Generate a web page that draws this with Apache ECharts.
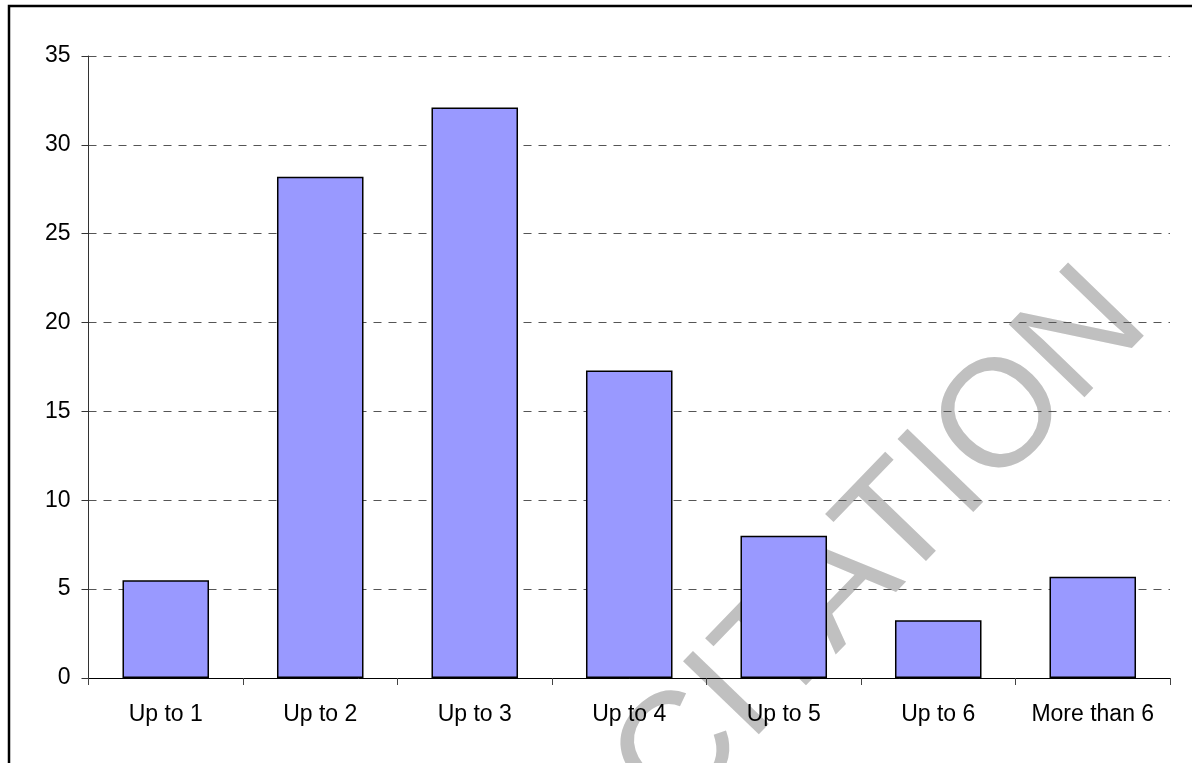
<!DOCTYPE html>
<html>
<head>
<meta charset="utf-8">
<script src="https://cdn.jsdelivr.net/npm/echarts@6/dist/echarts.min.js"></script>
<style>
  html, body { margin: 0; padding: 0; background: #fff; }
  #chart { width: 1192px; height: 763px; }
</style>
</head>
<body>
<div id="chart"></div>
<script>
  // Data
  var categories = ['Up to 1', 'Up to 2', 'Up to 3', 'Up to 4', 'Up to 5', 'Up to 6', 'More than 6'];
  var values = [5.5, 28.2, 32.1, 17.3, 8.0, 3.25, 5.7];
  var yTicks = [0, 5, 10, 15, 20, 25, 30, 35];
  var watermark = 'CITATION';

  var font = 'Liberation Sans, Arial, sans-serif';
  var chart = echarts.init(document.getElementById('chart'));

  var option = {
    animation: false,
    backgroundColor: '#fff',
    grid: {
      left: 88.5,
      right: 22,
      top: 56,
      bottom: 85
    },
    graphic: {
      elements: [{
        // outer frame
        type: 'rect',
        z: -20,
        shape: { x: 9, y: 6, width: 1400, height: 900 },
        style: { fill: 'none', stroke: '#000', lineWidth: 2.5 }
      }, {
        // watermark, behind bars and grid
        type: 'text',
        z: -10,
        x: 882,
        y: 546,
        rotation: 46 * Math.PI / 180,
        style: {
          text: watermark,
          fill: '#c0c0c0',
          font: '153px ' + font,
          align: 'center',
          verticalAlign: 'middle'
        }
      }]
    },
    xAxis: {
      type: 'category',
      data: categories,
      boundaryGap: true,
      axisLine: { lineStyle: { color: '#000', width: 1 } },
      axisTick: { show: true, length: 7, alignWithLabel: false, lineStyle: { color: '#444' } },
      axisLabel: { color: '#000', fontFamily: font, fontSize: 23, margin: 25, interval: 0 },
      splitLine: { show: false }
    },
    yAxis: {
      type: 'value',
      min: yTicks[0],
      max: yTicks[yTicks.length - 1],
      interval: yTicks[1] - yTicks[0],
      axisLine: { show: true, lineStyle: { color: '#333', width: 1 } },
      axisTick: { show: true, length: 7, lineStyle: { color: '#333' } },
      axisLabel: { color: '#000', fontFamily: font, fontSize: 23, margin: 18 },
      splitLine: {
        show: true,
        lineStyle: { color: '#555', width: 1, type: [8, 7] }
      }
    },
    series: [{
      type: 'bar',
      data: values,
      barWidth: '56%',
      itemStyle: {
        color: '#9999FF',
        borderColor: '#000',
        borderWidth: 1.5
      }
    }]
  };

  chart.setOption(option);
</script>
</body>
</html>
